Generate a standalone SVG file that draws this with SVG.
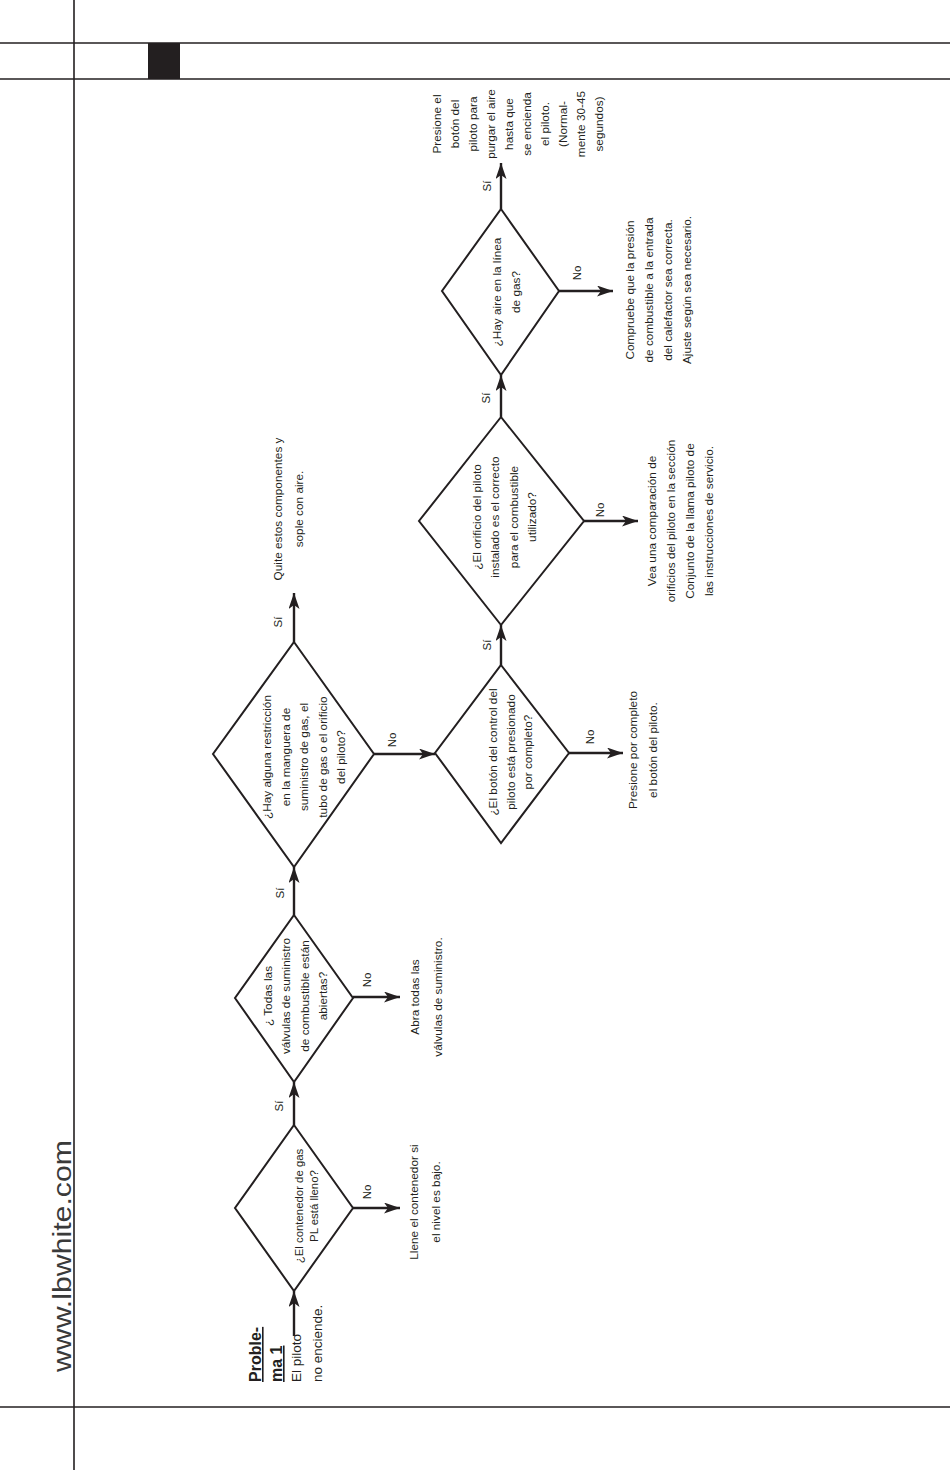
<svg xmlns="http://www.w3.org/2000/svg" width="950" height="1470" viewBox="0 0 950 1470">
<style>
.frame{stroke:#231f20;stroke-width:1.6;fill:none}
.dia{fill:#fff;stroke:#231f20;stroke-width:2}
.con{stroke:#231f20;stroke-width:2.4;fill:none;marker-end:url(#ah)}
text{font-family:"Liberation Sans",Arial,sans-serif;fill:#231f20}
.t{font-size:11.8px;text-anchor:middle}
.t1{font-size:11.4px;text-anchor:middle}
.o{font-size:11.8px;text-anchor:middle}
.lbl{font-size:11.5px;text-anchor:middle}
.p{font-size:13.5px}
.pb{font-size:16px;font-weight:bold;text-decoration:underline}
.web{font-size:25px;fill:#3a3a3a}
</style>
<defs>
<marker id="ah" viewBox="0 0 16 11" markerWidth="16" markerHeight="11" refX="16" refY="5.5" orient="auto" markerUnits="userSpaceOnUse">
<path d="M0,0 L16,5.5 L0,11 L4,5.5 z" fill="#231f20"/>
</marker>
</defs>
<rect width="950" height="1470" fill="#fff"/>
<g id="frame">
<line class="frame" x1="74" y1="0" x2="74" y2="1470"/>
<line class="frame" x1="0" y1="43" x2="950" y2="43"/>
<line class="frame" x1="0" y1="79" x2="950" y2="79"/>
<line class="frame" x1="0" y1="1407" x2="950" y2="1407"/>
<rect x="148" y="43" width="32" height="36" fill="#231f20"/>
<text class="web" transform="translate(71,1372) rotate(-90)" textLength="232" lengthAdjust="spacingAndGlyphs">www.lbwhite.com</text>
</g>
<g id="connectors">
<line class="con" x1="294" y1="1336" x2="294" y2="1291"/>
<line class="con" x1="294" y1="1125" x2="294" y2="1082"/>
<line class="con" x1="353" y1="1208" x2="400" y2="1208"/>
<line class="con" x1="294" y1="915" x2="294" y2="867"/>
<line class="con" x1="353" y1="997" x2="400" y2="997"/>
<line class="con" x1="294" y1="642" x2="294" y2="593"/>
<line class="con" x1="374" y1="754" x2="435" y2="754"/>
<line class="con" x1="501" y1="665" x2="501" y2="625"/>
<line class="con" x1="569" y1="753" x2="623" y2="753"/>
<line class="con" x1="501" y1="417" x2="501" y2="375"/>
<line class="con" x1="584" y1="521" x2="638" y2="521"/>
<line class="con" x1="501" y1="209" x2="501" y2="163"/>
<line class="con" x1="559" y1="291" x2="613" y2="291"/>
<text class="lbl" transform="translate(283,1106) rotate(-90)">Sí</text>
<text class="lbl" transform="translate(284,893) rotate(-90)">Sí</text>
<text class="lbl" transform="translate(282,622) rotate(-90)">Sí</text>
<text class="lbl" transform="translate(491,645) rotate(-90)">Sí</text>
<text class="lbl" transform="translate(490,398) rotate(-90)">Sí</text>
<text class="lbl" transform="translate(491,186) rotate(-90)">Sí</text>
<text class="lbl" transform="translate(371,1192) rotate(-90)">No</text>
<text class="lbl" transform="translate(371,980) rotate(-90)">No</text>
<text class="lbl" transform="translate(396,740) rotate(-90)">No</text>
<text class="lbl" transform="translate(594,737) rotate(-90)">No</text>
<text class="lbl" transform="translate(604,510) rotate(-90)">No</text>
<text class="lbl" transform="translate(581,273) rotate(-90)">No</text>
</g>
<g id="start">
<text transform="translate(261,1382) rotate(-90)"><tspan class="pb" x="0" y="0">Proble-</tspan><tspan class="pb" x="0" y="21">ma 1</tspan><tspan class="p" x="0" y="39.5">El piloto</tspan><tspan class="p" x="0" y="61">no enciende.</tspan></text>
</g>
<g id="d1">
<polygon class="dia" points="294,1125 353,1208 294,1291 235,1208"/>
<text class="t1" transform="translate(303,1206) rotate(-90)"><tspan x="0" y="0">¿El contenedor de gas</tspan><tspan x="0" y="14.5">PL está lleno?</tspan></text>
</g>
<g id="o1">
<text class="o" transform="translate(418,1202) rotate(-90)"><tspan x="0" y="0">Llene el contenedor si</tspan><tspan x="0" y="22">el nivel es bajo.</tspan></text>
</g>
<g id="d2">
<polygon class="dia" points="294,915 353,998 294,1082 235,998"/>
<text class="t" transform="translate(272,996) rotate(-90)"><tspan x="0" y="0">¿ Todas las</tspan><tspan x="0" y="18.3">válvulas de suministro</tspan><tspan x="0" y="36.6">de combustible están</tspan><tspan x="0" y="54.9">abiertas?</tspan></text>
</g>
<g id="o2">
<text class="o" transform="translate(419,997) rotate(-90)"><tspan x="0" y="0">Abra todas las</tspan><tspan x="0" y="23">válvulas de suministro.</tspan></text>
</g>
<g id="d3">
<polygon class="dia" points="294,642 374,754 294,867 213,754"/>
<text class="t" transform="translate(271,757) rotate(-90)"><tspan x="0" y="0">¿Hay alguna restricción</tspan><tspan x="0" y="18.6">en la manguera de</tspan><tspan x="0" y="37.2">suministro de gas, el</tspan><tspan x="0" y="55.8">tubo de gas o el orificio</tspan><tspan x="0" y="74.4">del piloto?</tspan></text>
</g>
<g id="o3">
<text class="o" transform="translate(282,509) rotate(-90)"><tspan x="0" y="0">Quite estos componentes y</tspan><tspan x="0" y="21">sople con aire.</tspan></text>
</g>
<g id="d4">
<polygon class="dia" points="501,665 569,753 501,843 435,753"/>
<text class="t" transform="translate(497,752) rotate(-90)"><tspan x="0" y="0">¿El botón del control del</tspan><tspan x="0" y="17.5">piloto está presionado</tspan><tspan x="0" y="35">por completo?</tspan></text>
</g>
<g id="o4">
<text class="o" transform="translate(637,750) rotate(-90)"><tspan x="0" y="0">Presione por completo</tspan><tspan x="0" y="20">el botón del piloto.</tspan></text>
</g>
<g id="d5">
<polygon class="dia" points="501,417 584,521 501,625 419,521"/>
<text class="t" transform="translate(481,517) rotate(-90)"><tspan x="0" y="0">¿El orificio del piloto</tspan><tspan x="0" y="18.3">instalado es el correcto</tspan><tspan x="0" y="36.6">para el combustible</tspan><tspan x="0" y="54.9">utilizado?</tspan></text>
</g>
<g id="o5">
<text class="o" transform="translate(656,521) rotate(-90)"><tspan x="0" y="0">Vea una comparación de</tspan><tspan x="0" y="19">orificios del piloto en la sección</tspan><tspan x="0" y="38">Conjunto de la llama piloto de</tspan><tspan x="0" y="57">las instrucciones de servicio.</tspan></text>
</g>
<g id="d6">
<polygon class="dia" points="501,209 559,291 501,375 442,291"/>
<text class="t" transform="translate(501,292) rotate(-90)"><tspan x="0" y="0">¿Hay aire en la línea</tspan><tspan x="0" y="19">de gas?</tspan></text>
</g>
<g id="o6">
<text class="o" transform="translate(634,290) rotate(-90)"><tspan x="0" y="0">Compruebe que la presión</tspan><tspan x="0" y="19">de combustible a la entrada</tspan><tspan x="0" y="38">del calefactor sea correcta.</tspan><tspan x="0" y="57">Ajuste según sea necesario.</tspan></text>
</g>
<g id="o7">
<text class="o" transform="translate(441,124) rotate(-90)"><tspan x="0" y="0">Presione el</tspan><tspan x="0" y="18">botón del</tspan><tspan x="0" y="36">piloto para</tspan><tspan x="0" y="54">purgar el aire</tspan><tspan x="0" y="72">hasta que</tspan><tspan x="0" y="90">se encienda</tspan><tspan x="0" y="108">el piloto.</tspan><tspan x="0" y="126">(Normal-</tspan><tspan x="0" y="144">mente 30-45</tspan><tspan x="0" y="162">segundos)</tspan></text>
</g>
</svg>
